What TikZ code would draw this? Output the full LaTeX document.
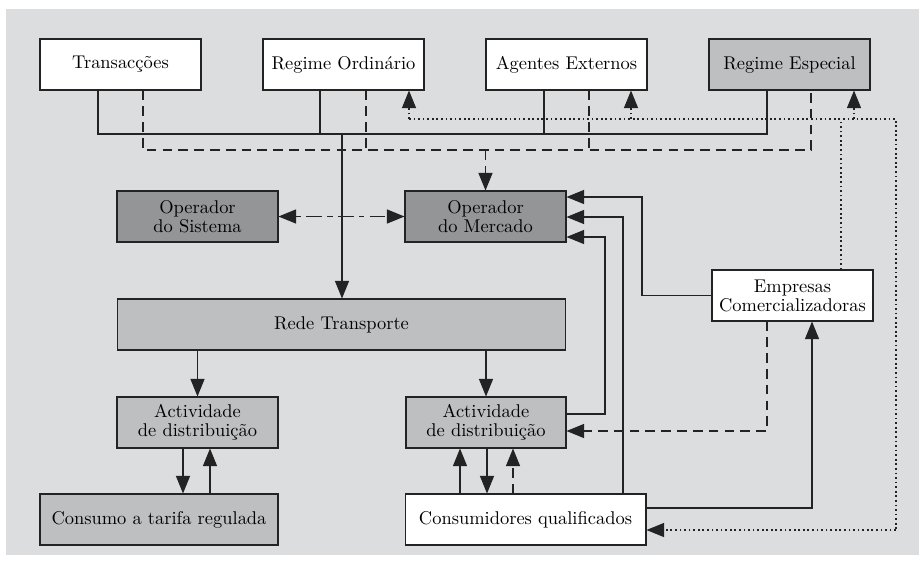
\documentclass[tikz,border=0pt]{standalone}
\usetikzlibrary{arrows.meta}

\definecolor{bgpanel}{RGB}{220,221,223}
\definecolor{boxlight}{RGB}{190,191,193}
\definecolor{boxdark}{RGB}{148,149,151}
\definecolor{linegray}{RGB}{35,35,35}

\tikzset{
  box/.style={draw=linegray, line width=0.6pt, fill=white, minimum width=3.22cm,
    minimum height=1.02cm, inner sep=0pt, align=center,
    font=\fontsize{10.5}{10.8}\selectfont},
  lightbox/.style={box, fill=boxlight},
  darkbox/.style={box, fill=boxdark},
  link/.style={draw=linegray, line width=0.6pt},
  headed/.style={-{Triangle[length=10pt,width=8pt]}},
  dashlink/.style={link, dash pattern=on 5.5pt off 3.5pt},
  dotlink/.style={link, dash pattern=on 1pt off 1.6pt},
  dashdotlink/.style={link, dash pattern=on 3pt off 3pt on 9pt off 3pt},
}

\begin{document}
\begin{tikzpicture}[x=0.02cm, y=-0.02cm]

    % Frame
    \useasboundingbox (0,0) rectangle (919,562);
    \fill[bgpanel] (6,9) rectangle (919,555);

    % Top row
    \node[box] (tra) at (120.5,64.5) {Transacções};
    \node[box] (rord) at (343.5,64.5) {Regime Ordinário};
    \node[box] (agext) at (566.5,64.5) {Agentes Externos};
    \node[lightbox] (resp) at (789.5,64.5) {Regime Especial};

    % Operators
    \node[darkbox] (opsis) at (197.5,216.5) {Operador\\do Sistema};
    \node[darkbox] (opmer) at (485.5,216.5) {Operador\\do Mercado};

    % Network and distribution
    \node[lightbox, minimum width=8.98cm] (rede) at (341.5,324.5) {Rede Transporte};
    \node[lightbox] (actl) at (197.5,422.5) {Actividade\\de distribuição};
    \node[lightbox, minimum width=3.2cm] (actr) at (486,422.5) {Actividade\\de distribuição};

    % Consumers and retailers
    \node[lightbox, minimum width=4.76cm] (consr) at (159,519.5) {Consumo a tarifa regulada};
    \node[box, minimum width=4.82cm] (conq) at (525.5,519.5) {Consumidores qualificados};
    \node[box] (empr) at (792.5,295.5) {Empresas\\Comercializadoras};

    % Guide points
    \coordinate (sb1) at (98,134);
    \coordinate (sb2) at (320,134);
    \coordinate (sb3) at (544,134);
    \coordinate (sb4) at (767,134);
    \coordinate (sbd) at (342,134);
    \coordinate (db1) at (143,150);
    \coordinate (db2) at (366,150);
    \coordinate (db3) at (589,150);
    \coordinate (db4) at (811,150);
    \coordinate (dt1) at (409,119);
    \coordinate (dt2) at (896,119);
    \coordinate (dt3) at (896,530);
    \coordinate (dt4) at (841,119);
    \coordinate (dt5) at (631,119);
    \coordinate (dt6) at (854,119);
    \coordinate (om1) at (642,197);
    \coordinate (om2) at (623,217);
    \coordinate (om3a) at (605,414);
    \coordinate (om3b) at (605,237);
    \coordinate (ea) at (767,431);
    \coordinate (ce) at (812,508);
    \coordinate (xl1) at (183,0);
    \coordinate (xl2) at (210,0);
    \coordinate (xr1) at (460,0);
    \coordinate (xr2) at (487,0);
    \coordinate (xr3) at (513,0);

    % Solid bus to the network
    \draw[link] (tra.south -| sb1) -- (sb1) -- (sb4) -- (resp.south -| sb4);
    \draw[link] (rord.south -| sb2) -- (sb2);
    \draw[link] (agext.south -| sb3) -- (sb3);
    \draw[link, headed] (sbd) -- (rede.north -| sbd);

    % Dashed bus to the market operator
    \draw[dashlink] (tra.south -| db1) -- (db1) -- (db4) -- (resp.south -| db4);
    \draw[dashlink] (rord.south -| db2) -- (db2);
    \draw[dashlink] (agext.south -| db3) -- (db3);
    \draw[dashlink, headed] (opmer.north |- db1) -- (opmer.north);

    % Dotted lines from the retailers
    \draw[dotlink] (empr.north -| dt4) -- (dt4);
    \draw[dotlink] (dt1) -- (dt2) -- (dt3);
    \draw[dotlink, headed] (dt1) -- (rord.south -| dt1);
    \draw[dotlink, headed] (dt5) -- (agext.south -| dt5);
    \draw[dotlink, headed] (dt6) -- (resp.south -| dt6);
    \draw[dotlink, headed] (dt3) -- (conq.east |- dt3);

    % Operators
    \draw[dashdotlink, {Triangle[length=10pt,width=8pt]}-{Triangle[length=10pt,width=8pt]}] (opsis) -- (opmer);

    % Into the market operator
    \draw[link, headed] (empr.west) -| (om1) -- (opmer.east |- om1);
    \draw[link, headed] (conq.north -| om2) -- (om2) -- (opmer.east |- om2);
    \draw[link, headed] (actr.east |- om3a) -- (om3a) -- (om3b) -- (opmer.east |- om3b);

    % Retailers
    \draw[dashlink, headed] (empr.south -| ea) -- (ea) -- (actr.east |- ea);
    \draw[link, headed] (conq.east |- ce) -- (ce) -- (empr.south -| ce);

    % Network to distribution
    \draw[link, headed] (rede.south -| actl.north) -- (actl.north);
    \draw[link, headed] (rede.south -| actr.north) -- (actr.north);

    % Distribution and consumers
    \draw[link, headed] (actl.south -| xl1) -- (consr.north -| xl1);
    \draw[link, headed] (consr.north -| xl2) -- (actl.south -| xl2);
    \draw[link, headed] (conq.north -| xr1) -- (actr.south -| xr1);
    \draw[link, headed] (actr.south -| xr2) -- (conq.north -| xr2);
    \draw[dashlink, headed] (conq.north -| xr3) -- (actr.south -| xr3);

\end{tikzpicture}
\end{document}
